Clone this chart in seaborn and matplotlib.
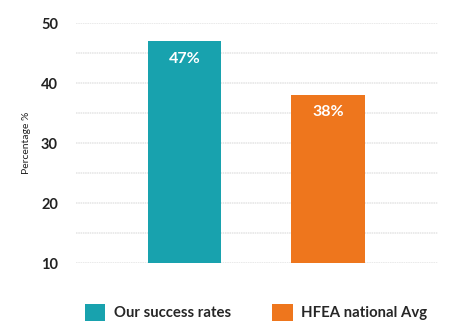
import matplotlib
matplotlib.use("Agg")
import matplotlib.pyplot as plt
import seaborn as sns
import pandas as pd
from matplotlib.patches import Patch
from matplotlib.ticker import MultipleLocator

categories = ["Our success rates", "HFEA national Avg"]
values = [47, 38]
value_labels = ["47%", "38%"]
colors = ["#18A2AE", "#EE761D"]
y_ticks = [10, 20, 30, 40, 50]

sns.set_theme(style="white")
plt.rcParams["font.family"] = ["Lato", "DejaVu Sans"]

df = pd.DataFrame({"category": categories, "value": values})

fig = plt.figure(figsize=(4.53, 3.26), dpi=100)
ax = fig.add_axes([0.168, 0.193, 0.799, 0.736])

sns.barplot(data=df, x="category", y="value", hue="category",
            palette=colors, width=0.512, legend=False, ax=ax,
            saturation=1, edgecolor="none", zorder=3)

ax.set_ylim(10, 50)
ax.set_xlim(-0.76, 1.77)
ax.set_yticks(y_ticks)
ax.yaxis.set_minor_locator(MultipleLocator(5))
ax.grid(axis="y", which="both", color="#e4e4e4", linestyle=(0, (1, 0.5)),
        linewidth=1.1, zorder=0)
ax.set_xticks([])
ax.set_xlabel("")
ax.set_ylabel("Percentage %", fontsize=7.5, color="#222222", labelpad=7)
ax.tick_params(axis="y", which="both", length=0, pad=13, labelsize=10.5,
               labelcolor="#222222")
for lbl in ax.get_yticklabels():
    lbl.set_fontweight("bold")
for s in ax.spines.values():
    s.set_visible(False)

for i, (v, t) in enumerate(zip(values, value_labels)):
    ax.annotate(t, xy=(i, v), xytext=(0, -12.5), textcoords="offset points",
                ha="center", va="center", color="white", fontsize=11.5,
                fontweight="bold", zorder=4)

handles = [Patch(facecolor=c, edgecolor="none") for c in colors]
fig.legend(handles, categories, loc="center", bbox_to_anchor=(0.565, 0.042),
           ncol=2, frameon=False, handlelength=1.4,
           handleheight=1.4, handletextpad=0.55, columnspacing=2.8,
           prop={"weight": "bold", "size": 10.7})

fig.savefig("out.png", dpi=100)
